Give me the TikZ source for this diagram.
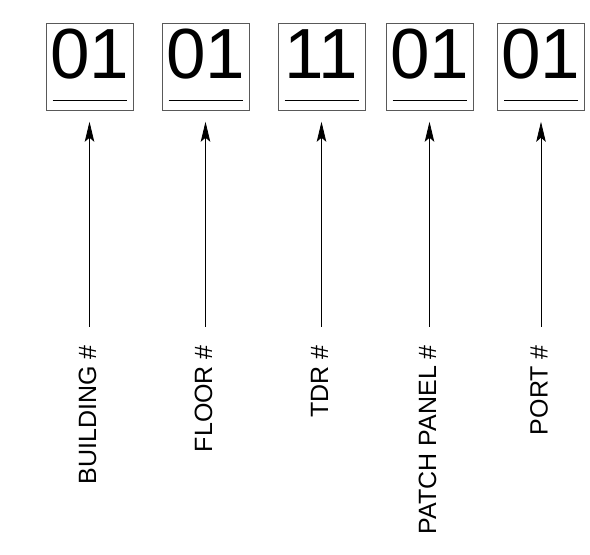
\documentclass[tikz,border=0pt]{standalone}
\usepackage{fontspec}
\setmainfont{Liberation Sans}
\usetikzlibrary{arrows.meta,calc}
\begin{document}
\begin{tikzpicture}[x=1pt,y=1pt,
  numbox/.style={draw=black!65,line width=1pt,minimum width=87pt,minimum height=87pt,inner sep=0pt},
  numtxt/.style={anchor=base,inner sep=0pt,font=\fontsize{71}{71}\selectfont},
  labtxt/.style={rotate=90,anchor=east,inner sep=0pt,font=\fontsize{25}{25}\selectfont},
  uline/.style={line width=0.9pt},
  arr/.style={line width=0.8pt,-{Stealth[length=20pt,width=9.5pt,inset=4pt]}}]
\useasboundingbox (0,0) rectangle (590,555);
\foreach \i/\cx/\num/\lab in {1/89.5/01/BUILDING \#,2/205.5/01/FLOOR \#,3/321.5/11/TDR \#,4/429.5/01/PATCH PANEL \#,5/541/01/PORT \#}{
  \node[numbox] (b\i) at (\cx,488.25) {};
  \node[numtxt] (n\i) at ($(b\i.south)+(0,32)$) {\num};
  \coordinate (ul\i) at ($(b\i.south west)+(7,10.5)$);
  \coordinate (ur\i) at ($(b\i.south east)+(-7,10.5)$);
  \draw[uline] (ul\i) -- (ur\i);
  \node[labtxt] (l\i) at (\cx-2,210) {\lab};
  \draw[arr,shorten <=18pt,shorten >=11pt] (l\i.east -| b\i.south) -- (b\i.south);
}
\end{tikzpicture}
\end{document}
